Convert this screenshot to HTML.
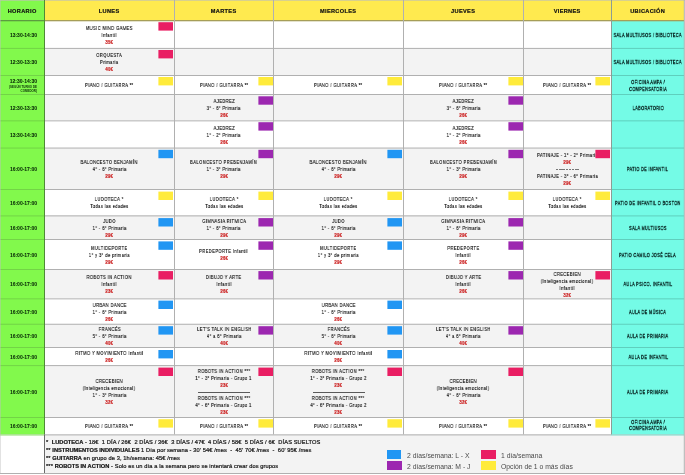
<!DOCTYPE html>
<html><head><meta charset="utf-8"><style>
html,body{margin:0;padding:0;}
body{width:685px;height:475px;position:relative;overflow:hidden;background:#fff;font-family:"Liberation Sans",sans-serif;color:#1a1a1a;}
.a{position:absolute;}
.c{position:absolute;display:flex;flex-direction:column;justify-content:center;align-items:center;}
.l{height:7px;line-height:7px;font-size:5.5px;white-space:nowrap;transform:scaleX(0.75);letter-spacing:0.5px;color:#111;-webkit-text-stroke:0.15px #111;will-change:transform;}
.pr{color:#cc2222;font-weight:bold;-webkit-text-stroke:0.22px #cc2222;}
.sep{height:6.4px;position:relative;width:52px;}
.sep:after{content:"";position:absolute;left:0;right:0;top:3.2px;height:1px;background:#5a5a5a;}
.dash{height:6.5px;position:relative;width:22.5px;}
.dash:after{content:"";position:absolute;left:0;right:0;top:2.4px;height:1px;background:repeating-linear-gradient(90deg,#777 0,#777 2.4px,transparent 2.4px,transparent 3.2px);}
.h{font-weight:bold;font-size:5.6px;letter-spacing:0.35px;text-indent:0.35px;color:#111;-webkit-text-stroke:0.2px #111;will-change:transform;}
.t{font-weight:bold;font-size:5px;color:#082808;-webkit-text-stroke:0.05px #082808;will-change:transform;}
.u{height:6.5px;line-height:6.5px;font-size:5.5px;white-space:nowrap;transform:scaleX(0.7);letter-spacing:0.5px;color:#06201e;-webkit-text-stroke:0.3px #06201e;will-change:transform;}
.box{position:absolute;width:15px;height:9px;}
</style></head><body>

<div class="a" style="left:0;top:0;width:44px;height:20px;background:#82f94c"></div>
<div class="a" style="left:44px;top:0;width:567px;height:20px;background:#ffea4f"></div>
<div class="a" style="left:611px;top:0;width:73px;height:20px;background:#ffea4f"></div>
<div class="a" style="left:44px;top:20px;width:567px;height:28px;background:#ffffff"></div>
<div class="a" style="left:44px;top:48px;width:567px;height:27px;background:#f3f3f3"></div>
<div class="a" style="left:44px;top:75px;width:567px;height:19px;background:#ffffff"></div>
<div class="a" style="left:44px;top:94px;width:567px;height:26px;background:#f3f3f3"></div>
<div class="a" style="left:44px;top:120px;width:567px;height:28px;background:#ffffff"></div>
<div class="a" style="left:44px;top:148px;width:567px;height:41px;background:#f3f3f3"></div>
<div class="a" style="left:44px;top:189px;width:567px;height:26px;background:#ffffff"></div>
<div class="a" style="left:44px;top:215px;width:567px;height:24px;background:#f3f3f3"></div>
<div class="a" style="left:44px;top:239px;width:567px;height:30px;background:#ffffff"></div>
<div class="a" style="left:44px;top:269px;width:567px;height:29px;background:#f3f3f3"></div>
<div class="a" style="left:44px;top:298px;width:567px;height:26px;background:#ffffff"></div>
<div class="a" style="left:44px;top:324px;width:567px;height:23px;background:#f3f3f3"></div>
<div class="a" style="left:44px;top:347px;width:567px;height:18px;background:#ffffff"></div>
<div class="a" style="left:44px;top:365px;width:567px;height:52px;background:#f3f3f3"></div>
<div class="a" style="left:44px;top:417px;width:567px;height:17px;background:#ffffff"></div>
<div class="a" style="left:0;top:20px;width:44px;height:414px;background:#82f94c"></div>
<div class="a" style="left:611px;top:20px;width:73px;height:414px;background:#74fbe6"></div>
<div class="a" style="left:44px;top:434px;width:640px;height:39px;background:#f3f3f3"></div>
<svg class="a" style="left:0;top:0" width="685" height="475" shape-rendering="geometricPrecision"><rect x="0" y="0" width="685" height="1" fill="rgba(192,192,180,0.62)"/><rect x="0" y="20" width="44" height="1.3" fill="#5c9c40"/><rect x="44" y="20" width="640" height="1.3" fill="#a69e58"/><rect x="0" y="47.9" width="44" height="1" fill="#72d446"/><rect x="44" y="47.9" width="567" height="1" fill="#b0b0b0"/><rect x="611" y="47.9" width="73" height="1" fill="#5fcfbd"/><rect x="0" y="75" width="44" height="1" fill="#72d446"/><rect x="44" y="75" width="567" height="1" fill="#b0b0b0"/><rect x="611" y="75" width="73" height="1" fill="#5fcfbd"/><rect x="0" y="94" width="44" height="1" fill="#72d446"/><rect x="44" y="94" width="567" height="1" fill="#b0b0b0"/><rect x="611" y="94" width="73" height="1" fill="#5fcfbd"/><rect x="0" y="120.35" width="44" height="1" fill="#72d446"/><rect x="44" y="120.35" width="567" height="1" fill="#b0b0b0"/><rect x="611" y="120.35" width="73" height="1" fill="#5fcfbd"/><rect x="0" y="147.55" width="44" height="1" fill="#72d446"/><rect x="44" y="147.55" width="567" height="1" fill="#b0b0b0"/><rect x="611" y="147.55" width="73" height="1" fill="#5fcfbd"/><rect x="0" y="189" width="44" height="1" fill="#72d446"/><rect x="44" y="189" width="567" height="1" fill="#b0b0b0"/><rect x="611" y="189" width="73" height="1" fill="#5fcfbd"/><rect x="0" y="215.4" width="44" height="1" fill="#72d446"/><rect x="44" y="215.4" width="567" height="1" fill="#b0b0b0"/><rect x="611" y="215.4" width="73" height="1" fill="#5fcfbd"/><rect x="0" y="239" width="44" height="1" fill="#72d446"/><rect x="44" y="239" width="567" height="1" fill="#b0b0b0"/><rect x="611" y="239" width="73" height="1" fill="#5fcfbd"/><rect x="0" y="269" width="44" height="1" fill="#72d446"/><rect x="44" y="269" width="567" height="1" fill="#b0b0b0"/><rect x="611" y="269" width="73" height="1" fill="#5fcfbd"/><rect x="0" y="298.35" width="44" height="1" fill="#72d446"/><rect x="44" y="298.35" width="567" height="1" fill="#b0b0b0"/><rect x="611" y="298.35" width="73" height="1" fill="#5fcfbd"/><rect x="0" y="323.75" width="44" height="1" fill="#72d446"/><rect x="44" y="323.75" width="567" height="1" fill="#b0b0b0"/><rect x="611" y="323.75" width="73" height="1" fill="#5fcfbd"/><rect x="0" y="347" width="44" height="1" fill="#72d446"/><rect x="44" y="347" width="567" height="1" fill="#b0b0b0"/><rect x="611" y="347" width="73" height="1" fill="#5fcfbd"/><rect x="0" y="365.1" width="44" height="1" fill="#72d446"/><rect x="44" y="365.1" width="567" height="1" fill="#b0b0b0"/><rect x="611" y="365.1" width="73" height="1" fill="#5fcfbd"/><rect x="0" y="417" width="44" height="1" fill="#72d446"/><rect x="44" y="417" width="567" height="1" fill="#b0b0b0"/><rect x="611" y="417" width="73" height="1" fill="#5fcfbd"/><rect x="0" y="434.4" width="44" height="1" fill="#72d446"/><rect x="44" y="434.4" width="567" height="1" fill="#b0b0b0"/><rect x="611" y="434.4" width="73" height="1" fill="#5fcfbd"/><rect x="0" y="473" width="685" height="1" fill="#b0b0b0"/><rect x="0" y="0" width="1" height="473" fill="rgba(190,190,190,0.45)"/><rect x="44" y="0" width="1" height="434.4" fill="#4f8a36"/><rect x="44" y="434.4" width="1" height="38.60000000000002" fill="#6a6a6a"/><rect x="174" y="0" width="1" height="434.4" fill="#b0b0b0"/><rect x="273" y="0" width="1" height="434.4" fill="#b0b0b0"/><rect x="403" y="0" width="1" height="434.4" fill="#b0b0b0"/><rect x="523" y="0" width="1" height="434.4" fill="#b0b0b0"/><rect x="611" y="0" width="1" height="434.4" fill="#8c9c94"/><rect x="683.8" y="0" width="1" height="474" fill="#b0b0b0"/></svg>
<div class="c h" style="left:0px;top:0;width:44px;height:21px">HORARIO</div>
<div class="c h" style="left:44px;top:0;width:130px;height:21px">LUNES</div>
<div class="c h" style="left:174px;top:0;width:99px;height:21px">MARTES</div>
<div class="c h" style="left:273px;top:0;width:130px;height:21px">MIERCOLES</div>
<div class="c h" style="left:403px;top:0;width:120px;height:21px">JUEVES</div>
<div class="c h" style="left:523px;top:0;width:88px;height:21px">VIERNES</div>
<div class="c h" style="left:611px;top:0;width:73px;height:21px">UBICACIÓN</div>
<div class="c t" style="left:1px;top:20px;width:45px;height:29px;">13:30-14:30</div>
<div class="c t" style="left:1px;top:48px;width:45px;height:28px;">12:30-13:30</div>
<div class="a t" style="left:0;top:75px;width:44px;height:19px;"><div style="position:absolute;right:7px;top:2.5px;line-height:6px">12:30-14:30</div><div style="position:absolute;right:7px;top:10.8px;font-size:2.9px;line-height:3.7px;text-align:right;font-weight:bold;-webkit-text-stroke:0;letter-spacing:0.05px">(SEGÚN TURNO DE<br>COMEDOR)</div></div>
<div class="c t" style="left:1px;top:94px;width:45px;height:27px;">12:30-13:30</div>
<div class="c t" style="left:1px;top:120px;width:45px;height:29px;">13:30-14:30</div>
<div class="c t" style="left:1px;top:148px;width:45px;height:42px;">16:00-17:00</div>
<div class="c t" style="left:1px;top:189px;width:45px;height:27px;">16:00-17:00</div>
<div class="c t" style="left:1px;top:215px;width:45px;height:25px;">16:00-17:00</div>
<div class="c t" style="left:1px;top:239px;width:45px;height:31px;">16:00-17:00</div>
<div class="c t" style="left:1px;top:269px;width:45px;height:30px;">16:00-17:00</div>
<div class="c t" style="left:1px;top:298px;width:45px;height:27px;">16:00-17:00</div>
<div class="c t" style="left:1px;top:324px;width:45px;height:24px;">16:00-17:00</div>
<div class="c t" style="left:1px;top:347px;width:45px;height:19px;">16:00-17:00</div>
<div class="c t" style="left:1px;top:365px;width:45px;height:53px;">16:00-17:00</div>
<div class="c t" style="left:1px;top:417px;width:45px;height:18px;">16:00-17:00</div>
<div class="c" style="left:45px;top:21px;width:129px;height:28px"><div class="l">MUSIC MIND GAMES</div><div class="l">Infantil</div><div class="l pr">35€</div></div>
<div class="c" style="left:45px;top:49px;width:129px;height:27px"><div class="l">ORQUESTA</div><div class="l">Primaria</div><div class="l pr">40€</div></div>
<div class="c" style="left:45px;top:76px;width:129px;height:19px"><div class="l">PIANO / GUITARRA **</div></div>
<div class="c" style="left:45px;top:149px;width:129px;height:41px"><div class="l">BALONCESTO BENJAMÍN</div><div class="l">4° - 6° Primaria</div><div class="l pr">29€</div></div>
<div class="c" style="left:45px;top:190px;width:129px;height:26px"><div class="l">LUDOTECA *</div><div class="l">Todas las edades</div></div>
<div class="c" style="left:45px;top:216px;width:129px;height:24px"><div class="l">JUDO</div><div class="l">1° - 6° Primaria</div><div class="l pr">29€</div></div>
<div class="c" style="left:45px;top:240px;width:129px;height:30px"><div class="l">MULTIDEPORTE</div><div class="l">1° y 3° de primaria</div><div class="l pr">29€</div></div>
<div class="c" style="left:45px;top:270px;width:129px;height:29px"><div class="l">ROBOTS IN ACTION</div><div class="l">Infantil</div><div class="l pr">23€</div></div>
<div class="c" style="left:45px;top:299px;width:129px;height:26px"><div class="l">URBAN DANCE</div><div class="l">1° - 6° Primaria</div><div class="l pr">26€</div></div>
<div class="c" style="left:45px;top:325px;width:129px;height:23px"><div class="l">FRANCÉS</div><div class="l">5° - 6° Primaria</div><div class="l pr">40€</div></div>
<div class="c" style="left:45px;top:348px;width:129px;height:18px"><div class="l">RITMO Y MOVIMIENTO Infantil</div><div class="l pr">26€</div></div>
<div class="c" style="left:45px;top:366px;width:129px;height:52px"><div class="l">CRECEBIEN</div><div class="l">(Inteligencia emocional)</div><div class="l">1° - 3° Primaria</div><div class="l pr">32€</div></div>
<div class="c" style="left:45px;top:418px;width:129px;height:17px"><div class="l">PIANO / GUITARRA **</div></div>
<div class="c" style="left:175px;top:76px;width:98px;height:19px"><div class="l">PIANO / GUITARRA **</div></div>
<div class="c" style="left:175px;top:95px;width:98px;height:26px"><div class="l">AJEDREZ</div><div class="l">3° - 6° Primaria</div><div class="l pr">26€</div></div>
<div class="c" style="left:175px;top:121px;width:98px;height:28px"><div class="l">AJEDREZ</div><div class="l">1° - 2° Primaria</div><div class="l pr">26€</div></div>
<div class="c" style="left:175px;top:149px;width:98px;height:41px"><div class="l">BALONCESTO PREBENJAMÍN</div><div class="l">1° - 3° Primaria</div><div class="l pr">29€</div></div>
<div class="c" style="left:175px;top:190px;width:98px;height:26px"><div class="l">LUDOTECA *</div><div class="l">Todas las edades</div></div>
<div class="c" style="left:175px;top:216px;width:98px;height:24px"><div class="l">GIMNASIA RITMICA</div><div class="l">1° - 6° Primaria</div><div class="l pr">29€</div></div>
<div class="c" style="left:175px;top:240px;width:98px;height:30px"><div class="l">PREDEPORTE Infantil</div><div class="l pr">26€</div></div>
<div class="c" style="left:175px;top:270px;width:98px;height:29px"><div class="l">DIBUJO Y ARTE</div><div class="l">Infantil</div><div class="l pr">26€</div></div>
<div class="c" style="left:175px;top:325px;width:98px;height:23px"><div class="l">LET&#x27;S TALK IN ENGLISH</div><div class="l">4° a 6° Primaria</div><div class="l pr">40€</div></div>
<div class="c" style="left:175px;top:366px;width:98px;height:52px"><div class="l">ROBOTS IN ACTION ***</div><div class="l">1° - 3° Primaria - Grupo 1</div><div class="l pr">23€</div><div class="sep"></div><div class="l">ROBOTS IN ACTION ***</div><div class="l">4° - 6° Primaria - Grupo 1</div><div class="l pr">23€</div></div>
<div class="c" style="left:175px;top:418px;width:98px;height:17px"><div class="l">PIANO / GUITARRA **</div></div>
<div class="c" style="left:274px;top:76px;width:129px;height:19px"><div class="l">PIANO / GUITARRA **</div></div>
<div class="c" style="left:274px;top:149px;width:129px;height:41px"><div class="l">BALONCESTO BENJAMÍN</div><div class="l">4° - 6° Primaria</div><div class="l pr">29€</div></div>
<div class="c" style="left:274px;top:190px;width:129px;height:26px"><div class="l">LUDOTECA *</div><div class="l">Todas las edades</div></div>
<div class="c" style="left:274px;top:216px;width:129px;height:24px"><div class="l">JUDO</div><div class="l">1° - 6° Primaria</div><div class="l pr">29€</div></div>
<div class="c" style="left:274px;top:240px;width:129px;height:30px"><div class="l">MULTIDEPORTE</div><div class="l">1° y 3° de primaria</div><div class="l pr">29€</div></div>
<div class="c" style="left:274px;top:299px;width:129px;height:26px"><div class="l">URBAN DANCE</div><div class="l">1° - 6° Primaria</div><div class="l pr">26€</div></div>
<div class="c" style="left:274px;top:325px;width:129px;height:23px"><div class="l">FRANCÉS</div><div class="l">5° - 6° Primaria</div><div class="l pr">40€</div></div>
<div class="c" style="left:274px;top:348px;width:129px;height:18px"><div class="l">RITMO Y MOVIMIENTO Infantil</div><div class="l pr">26€</div></div>
<div class="c" style="left:274px;top:366px;width:129px;height:52px"><div class="l">ROBOTS IN ACTION ***</div><div class="l">1° - 3° Primaria - Grupo 2</div><div class="l pr">23€</div><div class="sep"></div><div class="l">ROBOTS IN ACTION ***</div><div class="l">4° - 6° Primaria - Grupo 2</div><div class="l pr">23€</div></div>
<div class="c" style="left:274px;top:418px;width:129px;height:17px"><div class="l">PIANO / GUITARRA **</div></div>
<div class="c" style="left:404px;top:76px;width:119px;height:19px"><div class="l">PIANO / GUITARRA **</div></div>
<div class="c" style="left:404px;top:95px;width:119px;height:26px"><div class="l">AJEDREZ</div><div class="l">3° - 6° Primaria</div><div class="l pr">26€</div></div>
<div class="c" style="left:404px;top:121px;width:119px;height:28px"><div class="l">AJEDREZ</div><div class="l">1° - 2° Primaria</div><div class="l pr">26€</div></div>
<div class="c" style="left:404px;top:149px;width:119px;height:41px"><div class="l">BALONCESTO PREBENJAMÍN</div><div class="l">1° - 3° Primaria</div><div class="l pr">29€</div></div>
<div class="c" style="left:404px;top:190px;width:119px;height:26px"><div class="l">LUDOTECA *</div><div class="l">Todas las edades</div></div>
<div class="c" style="left:404px;top:216px;width:119px;height:24px"><div class="l">GIMNASIA RITMICA</div><div class="l">1° - 6° Primaria</div><div class="l pr">29€</div></div>
<div class="c" style="left:404px;top:240px;width:119px;height:30px"><div class="l">PREDEPORTE</div><div class="l">Infantil</div><div class="l pr">26€</div></div>
<div class="c" style="left:404px;top:270px;width:119px;height:29px"><div class="l">DIBUJO Y ARTE</div><div class="l">Infantil</div><div class="l pr">26€</div></div>
<div class="c" style="left:404px;top:325px;width:119px;height:23px"><div class="l">LET&#x27;S TALK IN ENGLISH</div><div class="l">4° a 6° Primaria</div><div class="l pr">40€</div></div>
<div class="c" style="left:404px;top:366px;width:119px;height:52px"><div class="l">CRECEBIEN</div><div class="l">(Inteligencia emocional)</div><div class="l">4° - 6° Primaria</div><div class="l pr">32€</div></div>
<div class="c" style="left:404px;top:418px;width:119px;height:17px"><div class="l">PIANO / GUITARRA **</div></div>
<div class="c" style="left:524px;top:76px;width:87px;height:19px"><div class="l">PIANO / GUITARRA **</div></div>
<div class="c" style="left:524px;top:149px;width:87px;height:41px"><div class="l">PATINAJE - 1° - 2° Primaria</div><div class="l pr">29€</div><div class="dash"></div><div class="l">PATINAJE - 3° - 6° Primaria</div><div class="l pr">29€</div></div>
<div class="c" style="left:524px;top:190px;width:87px;height:26px"><div class="l">LUDOTECA *</div><div class="l">Todas las edades</div></div>
<div class="c" style="left:524px;top:270px;width:87px;height:29px"><div class="l">CRECEBIEN</div><div class="l">(Inteligencia emocional)</div><div class="l">Infantil</div><div class="l pr">32€</div></div>
<div class="c" style="left:524px;top:418px;width:87px;height:17px"><div class="l">PIANO / GUITARRA **</div></div>
<div class="c" style="left:612px;top:21px;width:72px;height:28px"><div class="u">SALA MULTIUSOS / BIBLIOTECA</div></div>
<div class="c" style="left:612px;top:49px;width:72px;height:27px"><div class="u">SALA MULTIUSOS / BIBLIOTECA</div></div>
<div class="c" style="left:612px;top:76px;width:72px;height:19px"><div class="u">OFICINA AMPA /</div><div class="u">COMPENSATORIA</div></div>
<div class="c" style="left:612px;top:95px;width:72px;height:26px"><div class="u">LABORATORIO</div></div>
<div class="c" style="left:612px;top:149px;width:72px;height:41px"><div class="u">PATIO DE INFANTIL</div></div>
<div class="c" style="left:612px;top:190px;width:72px;height:26px"><div class="u">PATIO DE INFANTIL O BOSTON</div></div>
<div class="c" style="left:612px;top:216px;width:72px;height:24px"><div class="u">SALA MULTIUSOS</div></div>
<div class="c" style="left:612px;top:240px;width:72px;height:30px"><div class="u">PATIO CAMILO JOSÉ CELA</div></div>
<div class="c" style="left:612px;top:270px;width:72px;height:29px"><div class="u">AULA PSICO. INFANTIL</div></div>
<div class="c" style="left:612px;top:299px;width:72px;height:26px"><div class="u">AULA DE MÚSICA</div></div>
<div class="c" style="left:612px;top:325px;width:72px;height:23px"><div class="u">AULA DE PRIMARIA</div></div>
<div class="c" style="left:612px;top:348px;width:72px;height:18px"><div class="u">AULA DE INFANTIL</div></div>
<div class="c" style="left:612px;top:366px;width:72px;height:52px"><div class="u">AULA DE PRIMARIA</div></div>
<div class="c" style="left:612px;top:416.5px;width:72px;height:17px"><div class="u">OFICINA AMPA /</div><div class="u">COMPENSATORIA</div></div>
<svg class="a" style="left:0;top:0" width="685" height="475"><rect x="158.4" y="22.2" width="14.6" height="8.4" fill="#e91e63"/><rect x="158.4" y="50.0" width="14.6" height="8.4" fill="#e91e63"/><rect x="158.4" y="77.0" width="14.6" height="8.4" fill="#ffeb3b"/><rect x="158.4" y="149.8" width="14.6" height="8.4" fill="#2196f3"/><rect x="158.4" y="191.6" width="14.6" height="8.4" fill="#ffeb3b"/><rect x="158.4" y="218.1" width="14.6" height="8.4" fill="#2196f3"/><rect x="158.4" y="241.4" width="14.6" height="8.4" fill="#2196f3"/><rect x="158.4" y="271.1" width="14.6" height="8.4" fill="#e91e63"/><rect x="158.4" y="300.6" width="14.6" height="8.4" fill="#2196f3"/><rect x="158.4" y="326.2" width="14.6" height="8.4" fill="#2196f3"/><rect x="158.4" y="350.0" width="14.6" height="8.4" fill="#2196f3"/><rect x="158.4" y="367.6" width="14.6" height="8.4" fill="#e91e63"/><rect x="158.4" y="419.2" width="14.6" height="8.4" fill="#ffeb3b"/><rect x="258.4" y="77.0" width="14.6" height="8.4" fill="#ffeb3b"/><rect x="258.4" y="96.3" width="14.6" height="8.4" fill="#9c27b0"/><rect x="258.4" y="122.2" width="14.6" height="8.4" fill="#9c27b0"/><rect x="258.4" y="149.8" width="14.6" height="8.4" fill="#9c27b0"/><rect x="258.4" y="191.6" width="14.6" height="8.4" fill="#ffeb3b"/><rect x="258.4" y="218.1" width="14.6" height="8.4" fill="#9c27b0"/><rect x="258.4" y="241.4" width="14.6" height="8.4" fill="#9c27b0"/><rect x="258.4" y="271.1" width="14.6" height="8.4" fill="#9c27b0"/><rect x="258.4" y="326.2" width="14.6" height="8.4" fill="#9c27b0"/><rect x="258.4" y="367.6" width="14.6" height="8.4" fill="#e91e63"/><rect x="258.4" y="419.2" width="14.6" height="8.4" fill="#ffeb3b"/><rect x="387.4" y="77.0" width="14.6" height="8.4" fill="#ffeb3b"/><rect x="387.4" y="149.8" width="14.6" height="8.4" fill="#2196f3"/><rect x="387.4" y="191.6" width="14.6" height="8.4" fill="#ffeb3b"/><rect x="387.4" y="218.1" width="14.6" height="8.4" fill="#2196f3"/><rect x="387.4" y="241.4" width="14.6" height="8.4" fill="#2196f3"/><rect x="387.4" y="300.6" width="14.6" height="8.4" fill="#2196f3"/><rect x="387.4" y="326.2" width="14.6" height="8.4" fill="#2196f3"/><rect x="387.4" y="350.0" width="14.6" height="8.4" fill="#2196f3"/><rect x="387.4" y="367.6" width="14.6" height="8.4" fill="#e91e63"/><rect x="387.4" y="419.2" width="14.6" height="8.4" fill="#ffeb3b"/><rect x="508.4" y="77.0" width="14.6" height="8.4" fill="#ffeb3b"/><rect x="508.4" y="96.3" width="14.6" height="8.4" fill="#9c27b0"/><rect x="508.4" y="122.2" width="14.6" height="8.4" fill="#9c27b0"/><rect x="508.4" y="149.8" width="14.6" height="8.4" fill="#9c27b0"/><rect x="508.4" y="191.6" width="14.6" height="8.4" fill="#ffeb3b"/><rect x="508.4" y="218.1" width="14.6" height="8.4" fill="#9c27b0"/><rect x="508.4" y="241.4" width="14.6" height="8.4" fill="#9c27b0"/><rect x="508.4" y="271.1" width="14.6" height="8.4" fill="#9c27b0"/><rect x="508.4" y="326.2" width="14.6" height="8.4" fill="#9c27b0"/><rect x="508.4" y="367.6" width="14.6" height="8.4" fill="#e91e63"/><rect x="508.4" y="419.2" width="14.6" height="8.4" fill="#ffeb3b"/><rect x="595.4" y="77.0" width="14.6" height="8.4" fill="#ffeb3b"/><rect x="595.4" y="149.8" width="14.6" height="8.4" fill="#e91e63"/><rect x="595.4" y="191.6" width="14.6" height="8.4" fill="#ffeb3b"/><rect x="595.4" y="271.1" width="14.6" height="8.4" fill="#e91e63"/><rect x="595.4" y="419.2" width="14.6" height="8.4" fill="#ffeb3b"/></svg>
<div class="a" style="left:46px;top:438.2px;font-size:5.7px;line-height:8px;color:#1a1a1a;white-space:nowrap;letter-spacing:0.1px;-webkit-text-stroke:0.22px #1a1a1a;will-change:transform">
<div>*&nbsp; <b style="letter-spacing:0;color:#111">LUDOTECA</b> - 18€&nbsp; 1 DÍA / 26€&nbsp; 2 DÍAS / 36€&nbsp; 3 DÍAS / 47€&nbsp; 4 DÍAS / 58€&nbsp; 5 DÍAS / 6€&nbsp; DÍAS SUELTOS</div>
<div>** <b style="letter-spacing:0;color:#111">INSTRUMENTOS INDIVIDUALES</b> 1 Día por semana - 30' 54€ /mes&nbsp; -&nbsp; 45' 70€ /mes&nbsp; -&nbsp; 60' 95€ /mes</div>
<div>** <b style="letter-spacing:0;color:#111">GUITARRA</b> en grupo de 3, 1h/semana: 45€ /mes</div>
<div>*** <b style="letter-spacing:0;color:#111">ROBOTS IN ACTION</b> - Solo es un día a la semana pero se intentará crear dos grupos</div>
</div>
<div class="a" style="left:387px;top:450px;width:14px;height:9px;background:#2196f3"></div>
<div class="a" style="left:406.5px;top:450px;font-size:6.8px;line-height:11px;color:#4a4a4a;white-space:nowrap;will-change:transform">2 días/semana: L - X</div>
<div class="a" style="left:387px;top:461px;width:15px;height:8.5px;background:#9c27b0"></div>
<div class="a" style="left:406.5px;top:461px;font-size:6.8px;line-height:11px;color:#4a4a4a;white-space:nowrap;will-change:transform">2 días/semana: M - J</div>
<div class="a" style="left:481px;top:450px;width:15px;height:9px;background:#e91e63"></div>
<div class="a" style="left:500.5px;top:450px;font-size:6.8px;line-height:11px;color:#4a4a4a;white-space:nowrap;will-change:transform">1 día/semana</div>
<div class="a" style="left:481px;top:461px;width:15px;height:9px;background:#ffeb3b"></div>
<div class="a" style="left:500.5px;top:461px;font-size:6.8px;line-height:11px;color:#4a4a4a;white-space:nowrap;will-change:transform">Opción de 1 o más días</div>
</body></html>
